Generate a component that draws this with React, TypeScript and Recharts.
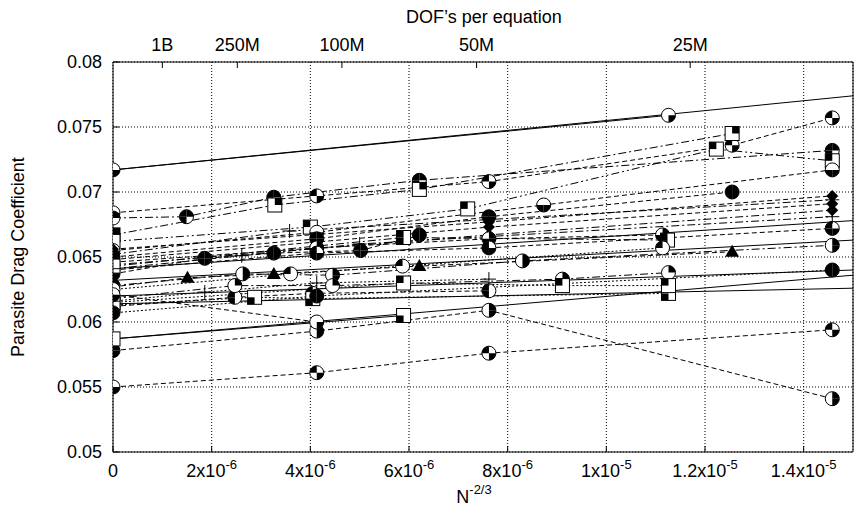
import { CartesianGrid, ComposedChart, Label, Line, XAxis, YAxis } from "recharts";

type Pt = [number, number];

// bottom axis: N^(-2/3)
const xTicks = [0, 2e-6, 4e-6, 6e-6, 8e-6, 1e-5, 1.2e-5, 1.4e-5];
const xTickBase = ["0", "2x10", "4x10", "6x10", "8x10", "1x10", "1.2x10", "1.4x10"];
const xTickExp = ["", "-6", "-6", "-6", "-6", "-5", "-5", "-5"];

// top axis: DOF's per equation, placed at N^(-2/3)
const dofTicks = [1e-6, 2.52e-6, 4.64e-6, 7.37e-6, 1.17e-5];
const dofLabels = ["1B", "250M", "100M", "50M", "25M"];

const yTicks = [0.05, 0.055, 0.06, 0.065, 0.07, 0.075, 0.08];
const yTickLabels = ["0.05", "0.055", "0.06", "0.065", "0.07", "0.075", "0.08"];

// grid-refinement runs
const run01: Pt[] = [[0, 0.0717], [11.26e-6, 0.0759]];
const run02: Pt[] = [[0, 0.0684], [4.13e-6, 0.0697], [7.62e-6, 0.0708], [12.55e-6, 0.0736], [14.58e-6, 0.0757]];
const run03: Pt[] = [[0, 0.068], [1.49e-6, 0.0681], [3.26e-6, 0.0696], [6.21e-6, 0.0709], [14.58e-6, 0.0732]];
const run04: Pt[] = [[0, 0.0667], [3.28e-6, 0.069], [6.21e-6, 0.0702], [12.55e-6, 0.0745]];
const run05: Pt[] = [[0, 0.0662], [4.0e-6, 0.0673], [7.19e-6, 0.0687], [12.23e-6, 0.0733], [14.58e-6, 0.0724]];
const run06: Pt[] = [[0, 0.0655], [4.13e-6, 0.0669], [8.73e-6, 0.069], [14.58e-6, 0.0717]];
const run07: Pt[] = [[0, 0.065], [4.13e-6, 0.0664], [7.62e-6, 0.0681], [12.55e-6, 0.07]];
const run08: Pt[] = [[0, 0.0656], [7.62e-6, 0.0677], [14.58e-6, 0.0697]];
const run09: Pt[] = [[0, 0.0648], [7.62e-6, 0.0673], [14.58e-6, 0.0691]];
const run10: Pt[] = [[0, 0.0644], [7.62e-6, 0.0667], [14.58e-6, 0.0686]];
const run11: Pt[] = [[0, 0.0646], [4.13e-6, 0.0657], [7.62e-6, 0.0664], [11.14e-6, 0.0667]];
const run12: Pt[] = [[0, 0.064], [4.13e-6, 0.0653], [7.62e-6, 0.0657], [14.58e-6, 0.0672]];
const run13: Pt[] = [[0, 0.0637], [1.86e-6, 0.0649], [3.26e-6, 0.0653], [5.02e-6, 0.0655], [6.21e-6, 0.0667]];
const run14: Pt[] = [[0, 0.0643], [5.89e-6, 0.0665], [11.24e-6, 0.0663]];
const run15: Pt[] = [[0, 0.0627], [1.51e-6, 0.0634], [3.26e-6, 0.0637], [6.21e-6, 0.0643], [12.55e-6, 0.0654]];
const run16: Pt[] = [[0, 0.0628], [2.63e-6, 0.0637], [4.45e-6, 0.0636], [8.3e-6, 0.0647], [14.58e-6, 0.0659]];
const run17: Pt[] = [[0, 0.0625], [3.6e-6, 0.0637], [5.87e-6, 0.0643], [11.14e-6, 0.0657]];
const run18: Pt[] = [[0, 0.0612], [2.47e-6, 0.0619], [4.05e-6, 0.0622], [7.62e-6, 0.0624]];
const run19: Pt[] = [[0, 0.0613], [2.87e-6, 0.0619], [4.05e-6, 0.0618], [11.26e-6, 0.0622]];
const run20: Pt[] = [[0, 0.0618], [2.47e-6, 0.0628], [4.45e-6, 0.0628], [9.11e-6, 0.0633], [11.26e-6, 0.0638]];
const run21: Pt[] = [[0, 0.0615], [5.89e-6, 0.063], [9.11e-6, 0.0628], [11.26e-6, 0.0628]];
const run22: Pt[] = [[0, 0.0578], [4.13e-6, 0.0593], [7.62e-6, 0.0609], [14.58e-6, 0.0541]];
const run23: Pt[] = [[0, 0.055], [4.13e-6, 0.0561], [7.62e-6, 0.0576], [14.58e-6, 0.0594]];
const run24: Pt[] = [[0, 0.0621], [4.13e-6, 0.06]];
const run25: Pt[] = [[0, 0.0587], [5.89e-6, 0.0605]];
const run26: Pt[] = [[0, 0.0641], [2.61e-6, 0.0651], [5.0e-6, 0.066], [14.58e-6, 0.0681]];
const run27: Pt[] = [[0, 0.0616], [1.86e-6, 0.0623], [4.13e-6, 0.063], [7.62e-6, 0.0633]];
const run28: Pt[] = [[0, 0.0652], [3.58e-6, 0.067], [14.58e-6, 0.0694]];
const run29: Pt[] = [[0, 0.0607], [4.13e-6, 0.062], [14.58e-6, 0.064]];

// least-squares fits drawn out to the right edge
const fit01: Pt[] = [[0, 0.0717], [1.5e-5, 0.0774]];
const fit02: Pt[] = [[0, 0.0641], [1.5e-5, 0.0678]];
const fit03: Pt[] = [[0, 0.0632], [1.5e-5, 0.0663]];
const fit04: Pt[] = [[0, 0.062], [1.5e-5, 0.064]];
const fit05: Pt[] = [[0, 0.0614], [1.5e-5, 0.0626]];
const fit06: Pt[] = [[0, 0.0587], [1.5e-5, 0.0636]];

const DASH = "5 3";
const DASHDOT = "8 3 2 3";
const DASH2DOT = "8 3 2 3 2 3";
const DOT = "2 2";

const runs = [
  { pts: run01, dash: undefined, mark: "c", quad: "0010" },
  { pts: run02, dash: DASH, mark: "c", quad: "1010" },
  { pts: run03, dash: DASHDOT, mark: "c", quad: "1101" },
  { pts: run04, dash: DASHDOT, mark: "s", quad: "0100" },
  { pts: run05, dash: DASH2DOT, mark: "s", quad: "1000" },
  { pts: run06, dash: DASH, mark: "c", quad: "0011" },
  { pts: run07, dash: DASH, mark: "c", quad: "1111" },
  { pts: run08, dash: DASH, mark: "d", quad: "" },
  { pts: run09, dash: DASH, mark: "d", quad: "" },
  { pts: run10, dash: DASHDOT, mark: "d", quad: "" },
  { pts: run11, dash: DASH, mark: "c", quad: "0111" },
  { pts: run12, dash: DASH, mark: "c", quad: "1011" },
  { pts: run13, dash: DASH, mark: "c", quad: "1111" },
  { pts: run14, dash: DASHDOT, mark: "s", quad: "1001" },
  { pts: run15, dash: DASH, mark: "t", quad: "" },
  { pts: run16, dash: DASHDOT, mark: "c", quad: "0110" },
  { pts: run17, dash: DOT, mark: "c", quad: "1000" },
  { pts: run18, dash: DASH, mark: "c", quad: "1001" },
  { pts: run19, dash: DOT, mark: "s", quad: "0001" },
  { pts: run20, dash: DASHDOT, mark: "c", quad: "0100" },
  { pts: run21, dash: DOT, mark: "s", quad: "1000" },
  { pts: run22, dash: DASH, mark: "c", quad: "0110" },
  { pts: run23, dash: DASH, mark: "c", quad: "1010" },
  { pts: run24, dash: DASH, mark: "c", quad: "0010" },
  { pts: run25, dash: undefined, mark: "s", quad: "0001" },
  { pts: run26, dash: DASHDOT, mark: "p", quad: "" },
  { pts: run27, dash: DOT, mark: "p", quad: "" },
  { pts: run28, dash: DASHDOT, mark: "p", quad: "" },
  { pts: run29, dash: DOT, mark: "c", quad: "1111" },
];

const fits = [fit01, fit02, fit03, fit04, fit05, fit06];

const FONT = "'Liberation Sans', Arial, Helvetica, sans-serif";

function Marker({ cx, cy, mark, quad }: { cx: number; cy: number; mark: string; quad: string }) {
  if (cx == null || cy == null) return null;
  const q = quad.split("").map((c) => c === "1");
  if (mark === "c") {
    const r = 7;
    const parts = [
      `M${cx},${cy}L${cx},${cy - r}A${r},${r} 0 0 0 ${cx - r},${cy}Z`,
      `M${cx},${cy}L${cx + r},${cy}A${r},${r} 0 0 0 ${cx},${cy - r}Z`,
      `M${cx},${cy}L${cx},${cy + r}A${r},${r} 0 0 0 ${cx + r},${cy}Z`,
      `M${cx},${cy}L${cx - r},${cy}A${r},${r} 0 0 0 ${cx},${cy + r}Z`,
    ];
    return (
      <g>
        <circle cx={cx} cy={cy} r={r} fill="#fff" stroke="#000" strokeWidth={1} />
        {parts.map((d, k) => (q[k] ? <path key={k} d={d} fill="#000" /> : null))}
      </g>
    );
  }
  if (mark === "s") {
    const h = 7;
    const cells = [
      [cx - h, cy - h],
      [cx, cy - h],
      [cx, cy],
      [cx - h, cy],
    ];
    return (
      <g>
        <rect x={cx - h} y={cy - h} width={2 * h} height={2 * h} fill="#fff" stroke="#000" strokeWidth={1} />
        {cells.map(([x, y], k) => (q[k] ? <rect key={k} x={x} y={y} width={h} height={h} fill="#000" /> : null))}
      </g>
    );
  }
  if (mark === "t") {
    return <path d={`M${cx},${cy - 7}L${cx + 7},${cy + 5}L${cx - 7},${cy + 5}Z`} fill="#000" />;
  }
  if (mark === "d") {
    return <path d={`M${cx},${cy - 6}L${cx + 6},${cy}L${cx},${cy + 6}L${cx - 6},${cy}Z`} fill="#000" />;
  }
  return (
    <path d={`M${cx - 7},${cy}L${cx + 7},${cy}M${cx},${cy - 7}L${cx},${cy + 7}`} stroke="#000" strokeWidth={1} />
  );
}

const near = (a: number, b: number) => Math.abs(a - b) < 1e-12;

function BottomTick(props: any) {
  const { x, y, payload } = props;
  const i = xTicks.findIndex((t) => near(t, payload.value));
  if (i < 0) return null;
  return (
    <text x={x} y={y + 25} textAnchor="middle" fontSize={18} fontFamily={FONT} fill="#000">
      {xTickBase[i]}
      {xTickExp[i] && (
        <tspan dy={-8} fontSize={13}>
          {xTickExp[i]}
        </tspan>
      )}
    </text>
  );
}

function TopTick(props: any) {
  const { x, y, payload } = props;
  const i = dofTicks.findIndex((t) => near(t, payload.value));
  if (i < 0) return null;
  return (
    <text x={x} y={y - 11} textAnchor="middle" fontSize={18} fontFamily={FONT} fill="#000">
      {dofLabels[i]}
    </text>
  );
}

function LeftTick(props: any) {
  const { x, y, payload } = props;
  const i = yTicks.findIndex((t) => Math.abs(t - payload.value) < 1e-9);
  if (i < 0) return null;
  return (
    <text x={x - 11} y={y + 6} textAnchor="end" fontSize={18} fontFamily={FONT} fill="#000">
      {yTickLabels[i]}
    </text>
  );
}

const toRows = (pts: Pt[]) => pts.map(([x, y]) => ({ x, y }));

export default function App() {
  return (
    <div style={{ width: 854, height: 506, background: "#fff" }}>
      <style>{"body{margin:0}"}</style>
      <ComposedChart width={854} height={506} margin={{ top: 0, right: 0, bottom: 0, left: 0 }}>
        <CartesianGrid xAxisId="b" yAxisId="l" stroke="#000" strokeDasharray="1 2" strokeWidth={1} />
        <XAxis
          xAxisId="b"
          dataKey="x"
          type="number"
          domain={[0, 1.5e-5]}
          allowDataOverflow
          ticks={xTicks}
          interval={0}
          height={54}
          tickSize={-6}
          tickMargin={6}
          tick={BottomTick}
          axisLine={{ stroke: "#000" }}
          tickLine={{ stroke: "#000" }}
        >
          <Label
            content={() => (
              <text x={474} y={503} textAnchor="middle" fontSize={18} fontFamily={FONT} fill="#000">
                N
                <tspan dy={-9} fontSize={13}>
                  -2/3
                </tspan>
              </text>
            )}
          />
        </XAxis>
        <XAxis
          xAxisId="t"
          orientation="top"
          dataKey="x"
          type="number"
          domain={[0, 1.5e-5]}
          allowDataOverflow
          ticks={dofTicks}
          interval={0}
          height={62}
          tickSize={-6}
          tickMargin={6}
          tick={TopTick}
          axisLine={{ stroke: "#000" }}
          tickLine={{ stroke: "#000" }}
        >
          <Label
            content={() => (
              <text x={484} y={23} textAnchor="middle" fontSize={18} fontFamily={FONT} fill="#000">
                DOF’s per equation
              </text>
            )}
          />
        </XAxis>
        <YAxis
          yAxisId="l"
          type="number"
          domain={[0.05, 0.08]}
          allowDataOverflow
          ticks={yTicks}
          interval={0}
          width={113}
          tickSize={-6}
          tickMargin={6}
          tick={LeftTick}
          axisLine={{ stroke: "#000" }}
          tickLine={{ stroke: "#000" }}
        >
          <Label
            content={() => (
              <text
                x={24}
                y={257}
                transform="rotate(-90, 24, 257)"
                textAnchor="middle"
                fontSize={18}
                fontFamily={FONT}
                fill="#000"
              >
                Parasite Drag Coefficient
              </text>
            )}
          />
        </YAxis>
        <YAxis
          yAxisId="r"
          orientation="right"
          type="number"
          domain={[0.05, 0.08]}
          allowDataOverflow
          ticks={yTicks}
          interval={0}
          width={1}
          tickSize={-6}
          tick={false}
          axisLine={{ stroke: "#000" }}
          tickLine={{ stroke: "#000" }}
        />
        {fits.map((pts, i) => (
          <Line
            key={"fit" + i}
            xAxisId="b"
            yAxisId="l"
            data={toRows(pts)}
            dataKey="y"
            type="linear"
            stroke="#000"
            strokeWidth={1}
            dot={false}
            activeDot={false}
            isAnimationActive={false}
          />
        ))}
        {runs.map((s, i) => (
          <Line
            key={"run" + i}
            xAxisId="b"
            yAxisId="l"
            data={toRows(s.pts)}
            dataKey="y"
            type="linear"
            stroke="#000"
            strokeWidth={1}
            strokeDasharray={s.dash}
            dot={(p: any) => <Marker key={`m${i}-${p.index}`} cx={p.cx} cy={p.cy} mark={s.mark} quad={s.quad} />}
            activeDot={false}
            isAnimationActive={false}
          />
        ))}
      </ComposedChart>
    </div>
  );
}
